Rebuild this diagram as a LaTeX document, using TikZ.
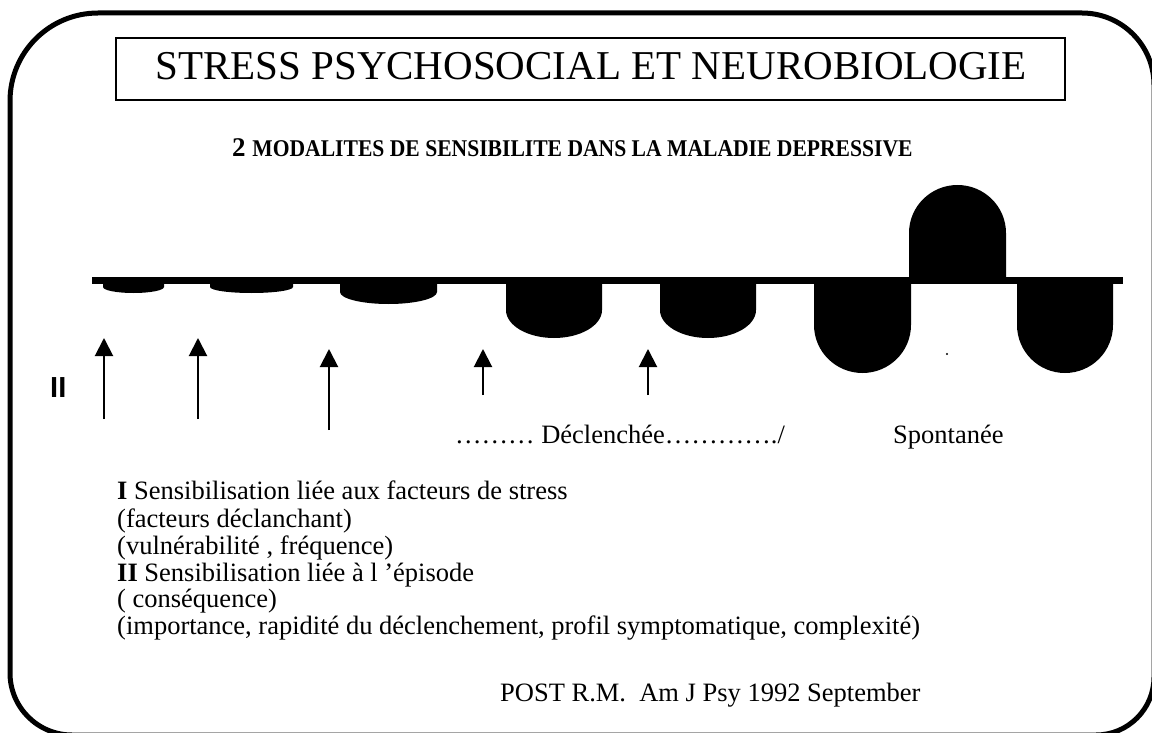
\documentclass[tikz,border=0pt]{standalone}
\usepackage{fontspec}
\setmainfont{Liberation Serif}
\setsansfont{Liberation Sans}
\usetikzlibrary{arrows.meta}
\begin{document}
\begin{tikzpicture}[x=1pt,y=-1pt,
  hangshape/.style={fill=black},
  stressarrow/.style={line width=2pt,-{Triangle[width=18pt,length=18pt]}},
  bodytext/.style={anchor=base west,inner sep=0pt,font=\fontsize{26.5}{27}\selectfont},
]
\useasboundingbox (0,0) rectangle (1152,733);
% outer frame
\draw[line width=5pt] (10,400) [rounded corners=88pt] -- (10,13) -- (600,13)
  [rounded corners=72pt] -- (1154,13) -- (1154,400)
  [rounded corners=58pt] -- (1154,735) -- (600,735)
  [rounded corners=62pt] -- (10,735) -- cycle;
% title
\node[draw,line width=1.5pt,minimum width=949pt,minimum height=62pt,inner sep=0pt] (titlebox) at (590.5,69) {};
\node[anchor=base,inner sep=0pt,font=\fontsize{41}{48}\selectfont] (title) at (591,80) {STRESS PSYCHOSOCIAL ET NEUROBIOLOGIE};
\node[anchor=base west,inner sep=0pt,font=\bfseries] (subtitle) at (232,157)
  {\fontsize{27}{30}\selectfont 2 \scalebox{0.9}[1]{\fontsize{24}{25}\selectfont MODALITES DE SENSIBILITE DANS LA MALADIE DEPRESSIVE}};
% base line
\coordinate (lineL) at (92,280.5);
\coordinate (lineR) at (1123,280.5);
\draw[line width=7pt] (lineL) -- (lineR);
% hanging shapes
\fill[hangshape] (103,280) -- (103,287) arc[start angle=180,end angle=0,x radius=30.5,y radius=6] -- (164,280) -- cycle;
\fill[hangshape] (210,280) -- (210,287) arc[start angle=180,end angle=0,x radius=41.5,y radius=6] -- (293,280) -- cycle;
\fill[hangshape] (340,280) -- (340,292) arc[start angle=180,end angle=0,x radius=48.5,y radius=12] -- (437,280) -- cycle;
\fill[hangshape] (506,280) -- (506,310) arc[start angle=180,end angle=0,x radius=48,y radius=28] -- (602,280) -- cycle;
\fill[hangshape] (660,280) -- (660,310) arc[start angle=180,end angle=0,x radius=48,y radius=28] -- (756,280) -- cycle;
\fill[hangshape] (814,280) -- (814,325) arc[start angle=180,end angle=0,x radius=48.5,y radius=48] -- (911,280) -- cycle;
\fill[hangshape] (909,281) -- (909,233) arc[start angle=180,end angle=360,x radius=48.5,y radius=48] -- (1006,281) -- cycle;
\fill[hangshape] (1017,280) -- (1017,325) arc[start angle=180,end angle=0,x radius=48,y radius=48] -- (1113,280) -- cycle;
\fill (947,354) circle (1.2pt);
% arrows
\coordinate (a1s) at (104,419); \coordinate (a1e) at (104,338);
\coordinate (a2s) at (198,419); \coordinate (a2e) at (198,338);
\coordinate (a3s) at (329,430); \coordinate (a3e) at (329,349);
\coordinate (a4s) at (483,395); \coordinate (a4e) at (483,349);
\coordinate (a5s) at (648,395); \coordinate (a5e) at (648,349);
\draw[stressarrow] (a1s) -- (a1e);
\draw[stressarrow] (a2s) -- (a2e);
\draw[stressarrow] (a3s) -- (a3e);
\draw[stressarrow] (a4s) -- (a4e);
\draw[stressarrow] (a5s) -- (a5e);
\node[anchor=base west,inner sep=0pt,font=\sffamily\bfseries\fontsize{29}{30}\selectfont] (II) at (50,397) {II};
\node[bodytext] (decl) at (455,443) {……… Déclenchée…………./};
\node[bodytext] (spont) at (893,443) {Spontanée};
% text block
\node[bodytext] (l1) at (117,499) {\textbf{I} Sensibilisation liée aux facteurs de stress};
\node[bodytext] (l2) at (117,527) {(facteurs déclanchant)};
\node[bodytext] (l3) at (117,554) {(vulnérabilité , fréquence)};
\node[bodytext] (l4) at (117,581) {\textbf{II} Sensibilisation liée à l ’épisode};
\node[bodytext] (l5) at (117,607) {( conséquence)};
\node[bodytext] (l6) at (117,634) {(importance, rapidité du déclenchement, profil symptomatique, complexité)};
\node[bodytext] (ref) at (500,701) {POST R.M.\ \ Am J Psy 1992 September};
\end{tikzpicture}
\end{document}
